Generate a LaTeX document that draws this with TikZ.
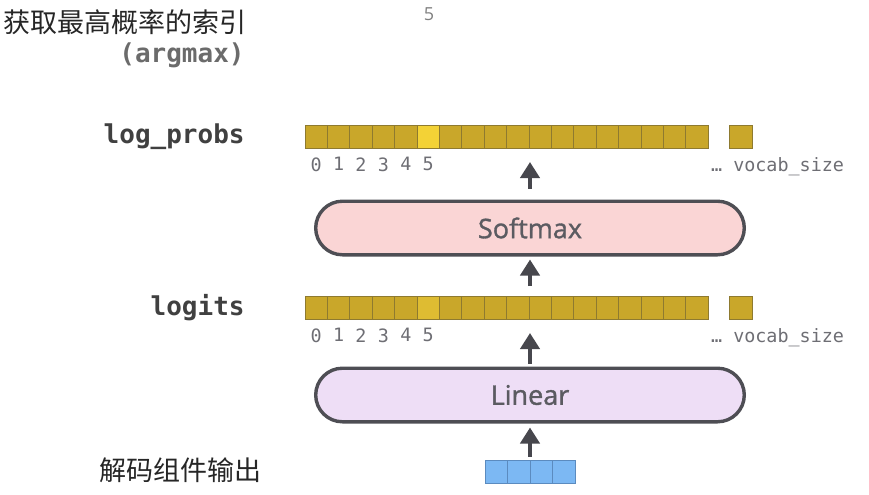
\documentclass[tikz,border=0pt]{standalone}
\usepackage{fontspec}
\setmainfont{Open Sans}
\setmonofont{DejaVu Sans Mono}
\newfontfamily\cjk{Noto Sans CJK SC}
\newfontfamily\layerfont{Open Sans}[FakeBold=1.2]
\usetikzlibrary{arrows.meta,positioning}

\definecolor{gold}{HTML}{C9A72A}
\definecolor{goldline}{HTML}{8E7A30}
\definecolor{hilite}{HTML}{F3D236}
\definecolor{hilitelo}{HTML}{DEBC32}
\definecolor{softpink}{HTML}{FAD5D5}
\definecolor{linlilac}{HTML}{EEDEF6}
\definecolor{inblue}{HTML}{7CB8F3}
\definecolor{inline}{HTML}{5B8BBF}
\definecolor{boxline}{HTML}{4E4E54}
\definecolor{arrowc}{HTML}{47474D}
\definecolor{txtgray}{HTML}{5B5B61}
\definecolor{idxgray}{HTML}{6E6E74}

\begin{document}
\begin{tikzpicture}[x=0.5pt, y=-0.5pt, >={Triangle[width=9.5pt,length=8pt]},
  cell/.style={draw=goldline, line width=0.5pt, fill=gold, minimum width=11.2pt,
    minimum height=11.5pt, inner sep=0pt},
  incell/.style={cell, draw=inline, fill=inblue, minimum width=11.25pt},
  layer/.style={draw=boxline, line width=1.7pt, rounded corners=13.4pt,
    minimum width=214.3pt, minimum height=26.8pt, text=txtgray,
    font=\layerfont\fontsize{13.5}{16}\selectfont},
  idx/.style={inner sep=0pt, text=idxgray, font=\ttfamily\fontsize{9.2}{11}\selectfont},
  lbl/.style={inner sep=0pt, font=\ttfamily\bfseries\fontsize{13}{15}\selectfont},
  cn/.style={inner sep=0pt, text=black!85, font=\cjk\fontsize{13.5}{16}\selectfont},
  arr/.style={->, line width=2pt, draw=arrowc}]
  \useasboundingbox (0,0) rectangle (869,494);

  % Titles on the left
  \node[cn, anchor=east] (title) at (247,22) {获取最高概率的索引};
  \node[lbl, anchor=east, text=black!58] (argmax) at (245,55) {(argmax)};
  \node[inner sep=0pt, text=black!50, font=\fontsize{9}{10}\selectfont] (top5) at (429,14) {5};
  \node[lbl, anchor=east, text=black!75] (lpname) at (245,137) {log\_probs};
  \node[lbl, anchor=east, text=black!75] (loname) at (245,308) {logits};
  \node[cn, anchor=east] (inname) at (262,470) {解码组件输出};

  % log_probs row
  \foreach \i in {0,...,17}{
    \ifnum\i=5 \def\cf{hilite}\else\def\cf{gold}\fi
    \node[cell, fill=\cf] (lp\i) at ({316.2+22.4*\i},137) {};
  }
  \node[cell] (lpN) at (741,137) {};
  \foreach \i in {0,...,5}
    \node[idx, below=4pt of lp\i] {\i};
  \node[idx, below right=4pt and 1pt of lp17.south east] (lpvs) {… vocab\_size};

  % Softmax
  \node[layer, fill=softpink] (softmax) at (530,228) {Softmax};

  % logits row
  \foreach \i in {0,...,17}{
    \ifnum\i=5 \def\cf{hilitelo}\else\def\cf{gold}\fi
    \node[cell, fill=\cf] (lo\i) at ({316.2+22.4*\i},308) {};
  }
  \node[cell] (loN) at (741,308) {};
  \foreach \i in {0,...,5}
    \node[idx, below=4pt of lo\i] {\i};
  \node[idx, below right=4pt and 1pt of lo17.south east] (lovs) {… vocab\_size};

  % Linear
  \node[layer, fill=linlilac] (linear) at (530,395) {Linear};

  % decoder output
  \foreach \i in {0,...,3}
    \node[incell] (in\i) at ({496.25+22.5*\i},471.5) {};

  % arrows
  \draw[arr, shorten <=5.5pt, shorten >=6.5pt] (softmax.north) -- (softmax.north |- lp0.south);
  \draw[arr, shorten <=5pt, shorten >=1.5pt] (softmax.south |- lo0.north) -- (softmax.south);
  \draw[arr, shorten <=1.5pt, shorten >=6.5pt] (linear.north) -- (linear.north |- lo0.south);
  \draw[arr, shorten <=1.5pt, shorten >=2pt] (linear.south |- in0.north) -- (linear.south);
\end{tikzpicture}
\end{document}
